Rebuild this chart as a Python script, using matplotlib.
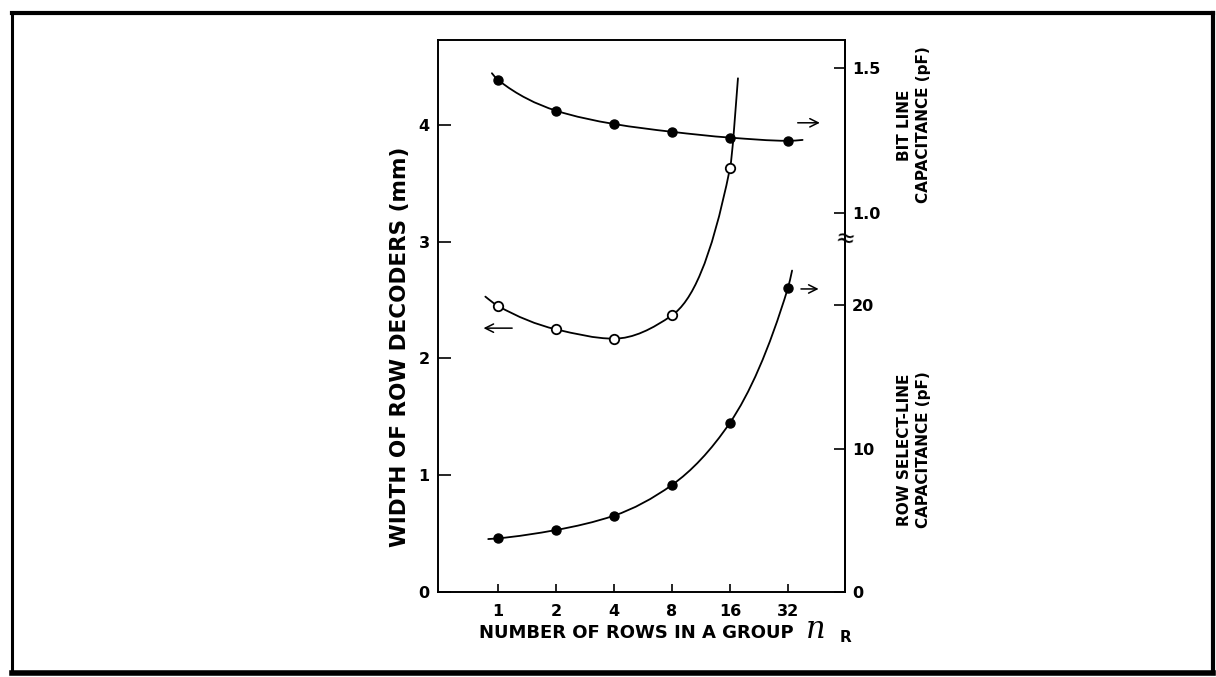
import numpy as np
import matplotlib
matplotlib.use("Agg")
import matplotlib.pyplot as plt
from matplotlib.path import Path
from matplotlib.patches import PathPatch
from matplotlib.lines import Line2D
from matplotlib.ticker import FixedLocator, FixedFormatter, NullLocator

# ---------------- data ----------------
rows_per_group = [1, 2, 4, 8, 16, 32]
x_tick_labels = ["1", "2", "4", "8", "16", "32"]

decoder_n = [1, 2, 4, 8, 16]
decoder_width_mm = [2.45, 2.25, 2.17, 2.37, 3.63]
decoder_curve_start = (0.86, 2.53)
decoder_curve_end = (17.6, 4.40)

bit_line_n = [1, 2, 4, 8, 16, 32]
bit_line_cap_pf = [1.459, 1.353, 1.307, 1.280, 1.260, 1.249]
bit_line_curve_start = (0.93, 1.482)
bit_line_curve_end = (38.1, 1.252)

row_select_n = [1, 2, 4, 8, 16, 32]
row_select_cap_pf = [3.74, 4.32, 5.32, 7.46, 11.8, 21.2]
row_select_curve_start = (0.89, 3.69)
row_select_curve_end = (33.6, 22.4)

left_ticks = [0, 1, 2, 3, 4]
left_tick_labels = ["0", "1", "2", "3", "4"]
bit_ticks = [1.0, 1.5]
bit_tick_labels = ["1.0", "1.5"]
row_ticks = [0, 10, 20]
row_tick_labels = ["0", "10", "20"]

# ---------------- style ----------------
plt.rcParams['font.family'] = ['DejaVu Sans']
plt.rcParams['font.weight'] = 'bold'

W, H = 1216, 677
fig = plt.figure(figsize=(W / 100, H / 100), dpi=100)
fig.patch.set_facecolor('white')


def fx(px):
    return px / W


def fy(py):
    return 1 - py / H


ax = fig.add_axes([fx(438), fy(592), (845 - 438) / W, (592 - 40) / H])
ax.set_xscale('log', base=2)
ax.set_xlim(2 ** -1.034, 2 ** 5.983)
ax.set_ylim(0, 4.728)

ax_bl = ax.twinx()
ax_bl.set_ylim(-0.3069, 1.5966)
ax_rs = ax.twinx()
ax_rs.set_ylim(0, 38.47)

for a in (ax, ax_bl, ax_rs):
    for s in a.spines.values():
        s.set_linewidth(1.4)
for a in (ax_bl, ax_rs):
    for k in ('left', 'top', 'bottom'):
        a.spines[k].set_visible(False)
ax_bl.spines['right'].set_visible(False)

ax.xaxis.set_major_locator(FixedLocator(rows_per_group))
ax.xaxis.set_major_formatter(FixedFormatter(x_tick_labels))
ax.xaxis.set_minor_locator(NullLocator())
ax.yaxis.set_major_locator(FixedLocator(left_ticks))
ax.yaxis.set_major_formatter(FixedFormatter(left_tick_labels))
ax_bl.yaxis.set_major_locator(FixedLocator(bit_ticks))
ax_bl.yaxis.set_major_formatter(FixedFormatter(bit_tick_labels))
ax_rs.yaxis.set_major_locator(FixedLocator(row_ticks))
ax_rs.yaxis.set_major_formatter(FixedFormatter(row_tick_labels))

ax.tick_params(axis='x', direction='in', length=6, width=1.2, pad=9, labelsize=11.5)
ax.tick_params(axis='y', direction='in', length=9, width=1.2, pad=6, labelsize=11.5)
for a in (ax_bl, ax_rs):
    a.tick_params(axis='y', direction='in', length=8, width=1.2, pad=5, labelsize=11.5)


# ---------------- smooth curves (monotone cubic drawn as Bezier path) ----------------
def pchip_slopes(t, v):
    h = np.diff(t)
    d = np.diff(v) / h
    n = len(t)
    m = np.zeros(n)
    for k in range(1, n - 1):
        if d[k - 1] * d[k] <= 0:
            m[k] = 0.0
        else:
            w1 = 2 * h[k] + h[k - 1]
            w2 = h[k] + 2 * h[k - 1]
            m[k] = (w1 + w2) / (w1 / d[k - 1] + w2 / d[k])

    def end(h0, h1, d0, d1):
        s = ((2 * h0 + h1) * d0 - h0 * d1) / (h0 + h1)
        if np.sign(s) != np.sign(d0):
            s = 0.0
        elif np.sign(d0) != np.sign(d1) and abs(s) > abs(3 * d0):
            s = 3 * d0
        return s

    m[0] = end(h[0], h[1], d[0], d[1])
    m[-1] = end(h[-1], h[-2], d[-1], d[-2])
    return m


def draw_smooth(a, xs, ys, **kw):
    t = np.log2(np.asarray(xs, float))
    v = np.asarray(ys, float)
    m = pchip_slopes(t, v)
    verts = [(t[0], v[0])]
    codes = [Path.MOVETO]
    for i in range(len(t) - 1):
        h = t[i + 1] - t[i]
        verts += [(t[i] + h / 3, v[i] + m[i] * h / 3),
                  (t[i + 1] - h / 3, v[i + 1] - m[i + 1] * h / 3),
                  (t[i + 1], v[i + 1])]
        codes += [Path.CURVE4] * 3
    verts = np.array(verts)
    verts[:, 0] = 2 ** verts[:, 0]
    a.add_patch(PathPatch(Path(verts, codes), fill=False, **kw))


curve_kw = dict(edgecolor='black', linewidth=1.3, capstyle='round', zorder=2)

draw_smooth(ax_bl,
            [bit_line_curve_start[0]] + bit_line_n + [bit_line_curve_end[0]],
            [bit_line_curve_start[1]] + bit_line_cap_pf + [bit_line_curve_end[1]],
            **curve_kw)
draw_smooth(ax,
            [decoder_curve_start[0]] + decoder_n + [decoder_curve_end[0]],
            [decoder_curve_start[1]] + decoder_width_mm + [decoder_curve_end[1]],
            **curve_kw)
draw_smooth(ax_rs,
            [row_select_curve_start[0]] + row_select_n + [row_select_curve_end[0]],
            [row_select_curve_start[1]] + row_select_cap_pf + [row_select_curve_end[1]],
            **curve_kw)

ax_bl.plot(bit_line_n, bit_line_cap_pf, linestyle='none', marker='o', ms=6.5,
           mfc='black', mec='black', zorder=3)
ax.plot(decoder_n, decoder_width_mm, linestyle='none', marker='o', ms=6.8,
        mfc='white', mec='black', mew=1.3, zorder=3)
ax_rs.plot(row_select_n, row_select_cap_pf, linestyle='none', marker='o', ms=6.5,
           mfc='black', mec='black', zorder=3)

# direction arrows
arrow_kw = dict(arrowstyle='->', lw=1.1, color='black', mutation_scale=15)
ax.annotate('', xy=(0.945, 0.850), xytext=(0.877, 0.850),
            xycoords='axes fraction', arrowprops=arrow_kw)
ax.annotate('', xy=(0.942, 0.549), xytext=(0.885, 0.549),
            xycoords='axes fraction', arrowprops=arrow_kw)
ax.annotate('', xy=(0.105, 0.478), xytext=(0.189, 0.478),
            xycoords='axes fraction', arrowprops=arrow_kw)

# axis break mark on the right spine
ax.text(1.0, (592 - 240) / 552, '\u2248', transform=ax.transAxes, ha='center',
        va='center', fontsize=17, fontweight='normal', rotation=-10)

# ---------------- labels ----------------
fig.text(fx(400), fy(347), 'WIDTH OF ROW DECODERS (mm)', rotation=90,
         ha='center', va='center', fontsize=15.5, fontweight='bold')
fig.text(fx(914), fy(125), 'BIT LINE\nCAPACITANCE (pF)', rotation=90,
         ha='center', va='center', fontsize=11, fontweight='bold',
         multialignment='center', linespacing=1.3)
fig.text(fx(914), fy(450), 'ROW SELECT-LINE\nCAPACITANCE (pF)', rotation=90,
         ha='center', va='center', fontsize=11, fontweight='bold',
         multialignment='center', linespacing=1.3)
fig.text(fx(479), fy(633), 'NUMBER OF ROWS IN A GROUP', ha='left', va='center',
         fontsize=13, fontweight='bold')
fig.text(fx(806), fy(630), 'n', ha='left', va='center', fontsize=22,
         family='DejaVu Serif', style='italic', fontweight='normal')
fig.text(fx(840), fy(637), 'R', ha='left', va='center', fontsize=11, fontweight='bold')

# ---------------- outer frame ----------------
frame = [((12, 13), (1213, 13), 3.0), ((12, 13), (12, 673), 2.2),
         ((1213, 13), (1213, 673), 3.0), ((12, 673), (1213, 673), 4.0)]
for (x0, y0), (x1, y1), lw in frame:
    fig.add_artist(Line2D([fx(x0), fx(x1)], [fy(y0), fy(y1)], transform=fig.transFigure,
                          color='black', linewidth=lw, solid_capstyle='projecting'))

fig.savefig('out.png', dpi=100, facecolor='white')
